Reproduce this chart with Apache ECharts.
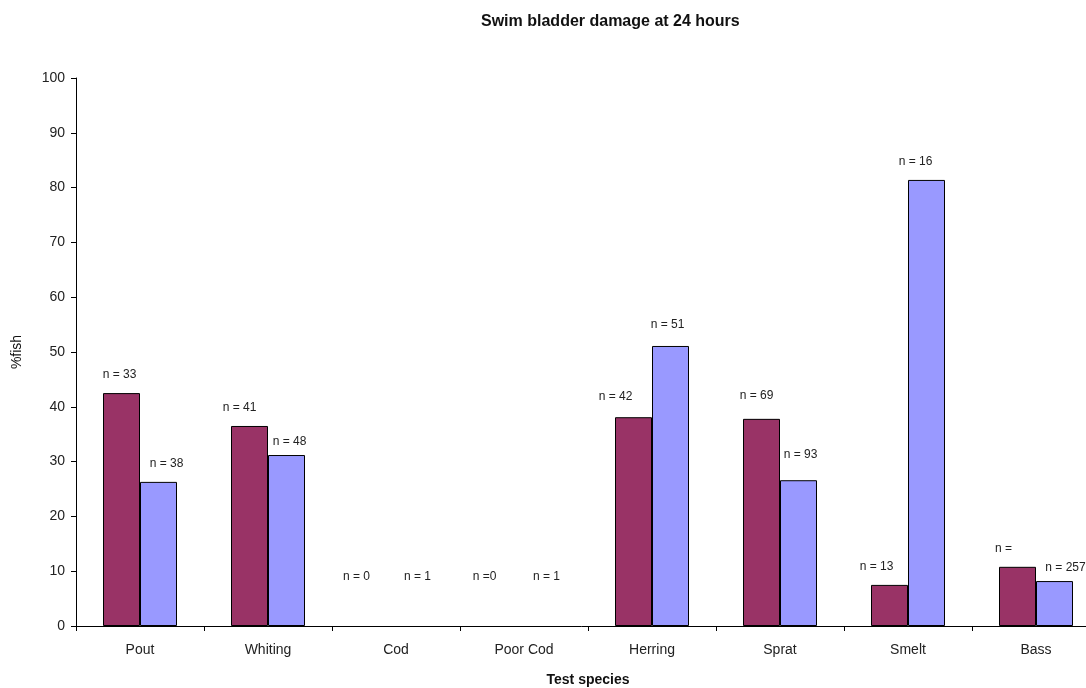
<!DOCTYPE html>
<html>
<head>
<meta charset="utf-8">
<script src="https://cdn.jsdelivr.net/npm/echarts@6/dist/echarts.min.js"></script>
<style>
  html, body { margin: 0; padding: 0; background: #fff; }
  #chart { width: 1086px; height: 688px; }
</style>
</head>
<body>
<div id="chart"></div>
<script>
// data
const species = ['Pout', 'Whiting', 'Cod', 'Poor Cod', 'Herring', 'Sprat', 'Smelt', 'Bass']
const seriesA = [42.5, 36.5, 0, 0, 38.1, 37.8, 7.5, 10.8]
const seriesB = [26.3, 31.2, 0, 0, 51.1, 26.6, 81.4, 8.2]
const nA = ['n = 33', 'n = 41', 'n = 0', 'n =0', 'n = 42', 'n = 69', 'n = 13', 'n =']
const nB = ['n = 38', 'n = 48', 'n = 1', 'n = 1', 'n = 51', 'n = 93', 'n = 16', 'n = 257']
const yTicks = [0, 100, 10]

// label nudges so the n = labels sit where the original puts them
const offA = [[-2, 0], [-10, 0], [-21, -31], [-21, -31], [-18, -3], [-5, -5], [-13, 0], [-14, 0]]
const offB = [[8, 0], [3, 5], [3, -31], [4, -31], [-3, -3], [2, -8], [-11, 0], [11, 5]]

const chart = echarts.init(document.getElementById('chart'))

const labelStyle = {
  show: true,
  position: 'top',
  distance: 12,
  color: '#222',
  fontSize: 12,
  fontFamily: 'Liberation Sans'
}

// zero bars are drawn without an outline, as in the original
const build = (vals, labels, offs) => vals.map((v, i) => ({
  value: v,
  itemStyle: v === 0 ? { borderWidth: 0 } : undefined,
  label: { formatter: labels[i], offset: offs[i] }
}))

const option = {
  animation: false,
  backgroundColor: '#fff',
  textStyle: { fontFamily: 'Liberation Sans' },
  title: {
    text: 'Swim bladder damage at 24 hours',
    left: 476,
    top: 9,
    textStyle: {
      color: '#111',
      fontSize: 16,
      fontWeight: 'bold',
      fontFamily: 'Liberation Sans'
    }
  },
  // the plot runs past the right edge of the picture, like the original
  grid: {
    left: 76,
    right: -14,
    top: 78,
    bottom: 62,
    containLabel: false,
    outerBoundsMode: 'none'
  },
  xAxis: {
    type: 'category',
    data: species,
    name: 'Test species',
    nameLocation: 'middle',
    nameGap: 47,
    nameTextStyle: { color: '#111', fontSize: 14, fontWeight: 'bold' },
    axisLine: { lineStyle: { color: '#000', width: 1 } },
    axisTick: { show: true, inside: false, length: 5, lineStyle: { color: '#000' } },
    axisLabel: { color: '#222', fontSize: 14, margin: 17 },
    splitLine: { show: false }
  },
  yAxis: {
    type: 'value',
    min: yTicks[0],
    max: yTicks[1],
    interval: yTicks[2],
    name: '%fish',
    nameLocation: 'middle',
    nameGap: 52,
    nameRotate: 90,
    nameTextStyle: { color: '#111', fontSize: 14 },
    axisLine: { show: true, lineStyle: { color: '#000', width: 1 } },
    axisTick: { show: true, length: 5, lineStyle: { color: '#000' } },
    axisLabel: { color: '#222', fontSize: 14, margin: 11 },
    splitLine: { show: false }
  },
  series: [
    {
      type: 'bar',
      data: build(seriesA, nA, offA),
      barWidth: 37,
      barGap: '0%',
      itemStyle: { color: '#993366', borderColor: '#000', borderWidth: 1 },
      label: labelStyle
    },
    {
      type: 'bar',
      data: build(seriesB, nB, offB),
      barWidth: 37,
      barGap: '0%',
      itemStyle: { color: '#9999ff', borderColor: '#000', borderWidth: 1 },
      label: labelStyle
    }
  ]
}

chart.setOption(option)
</script>
</body>
</html>
